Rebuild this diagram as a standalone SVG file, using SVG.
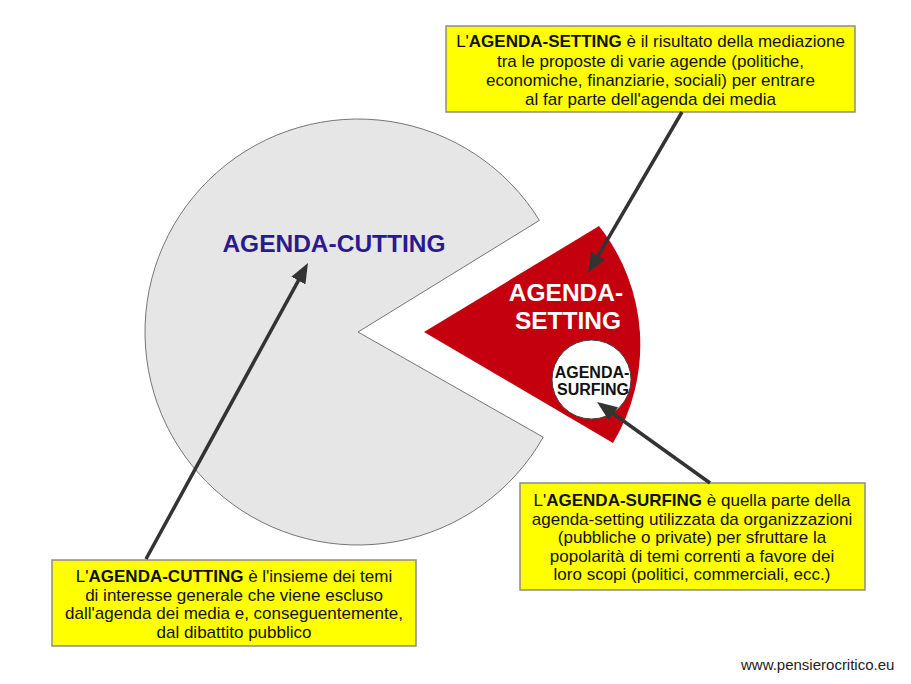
<svg xmlns="http://www.w3.org/2000/svg" width="911" height="684" viewBox="0 0 911 684">
<defs>
<style>
.box{fill:#ffff00;stroke:#8c8c8c;stroke-width:1.5}
.t{font-family:"Liberation Sans",Arial,sans-serif;font-size:17px;fill:#111;text-anchor:middle}
.b{font-weight:bold}
.arr{stroke:#333;stroke-width:3.5;fill:none;marker-end:url(#ah)}
.lbl{font-family:"Liberation Sans",Arial,sans-serif;font-weight:bold;text-anchor:middle}
</style>
<marker id="ah" viewBox="0 0 20 16" refX="14" refY="8" markerWidth="20" markerHeight="16" markerUnits="userSpaceOnUse" orient="auto">
<path d="M0,0 L20,8 L0,16 z" fill="#333"/>
</marker>
</defs>
<rect width="911" height="684" fill="#ffffff"/>

<g id="agenda-cutting">
<path d="M358 332 L539.4 220.4 A213 213 0 1 0 543.2 437.2 Z" fill="#e6e6e6" stroke="#555" stroke-width="0.8"/>
<text class="lbl" x="334" y="252" font-size="24.5" fill="#2b1a8e">AGENDA-CUTTING</text>
</g>

<g id="agenda-setting">
<path d="M424 332 L599 226 A191 191 0 0 1 613 443 Z" fill="#c4000f"/>
<text class="lbl" x="566" y="301" font-size="24.5" fill="#ffffff">AGENDA-</text>
<text class="lbl" x="568" y="329" font-size="24.5" fill="#ffffff">SETTING</text>
</g>

<g id="agenda-surfing">
<circle cx="591.5" cy="379.5" r="39.5" fill="#ffffff" stroke="#444" stroke-width="1"/>
<text class="lbl" x="592" y="378" font-size="16" fill="#111">AGENDA-</text>
<text class="lbl" x="593" y="395" font-size="16" fill="#111">SURFING</text>
</g>

<g id="note-setting">
<rect class="box" x="446" y="26" width="409" height="86"/>
<text class="t" x="650.5" y="46.5"><tspan>L'</tspan><tspan class="b">AGENDA-SETTING</tspan><tspan> è il risultato della mediazione</tspan></text>
<text class="t" x="650.5" y="66.5">tra le proposte di varie agende (politiche,</text>
<text class="t" x="650.5" y="86">economiche, finanziarie, sociali) per entrare</text>
<text class="t" x="650.5" y="105">al far parte dell'agenda dei media</text>
</g>

<g id="note-surfing">
<rect class="box" x="520" y="483" width="345" height="107"/>
<text class="t" x="692" y="506"><tspan>L'</tspan><tspan class="b">AGENDA-SURFING</tspan><tspan> è quella parte della</tspan></text>
<text class="t" x="692" y="524.5">agenda-setting utilizzata da organizzazioni</text>
<text class="t" x="692" y="543">(pubbliche o private) per sfruttare la</text>
<text class="t" x="692" y="561.5">popolarità di temi correnti a favore dei</text>
<text class="t" x="692" y="580">loro scopi (politici, commerciali, ecc.)</text>
</g>

<g id="note-cutting">
<rect class="box" x="52" y="560" width="364" height="86"/>
<text class="t" x="234" y="582"><tspan>L'</tspan><tspan class="b">AGENDA-CUTTING</tspan><tspan> è l'insieme dei temi</tspan></text>
<text class="t" x="234" y="600.5">di interesse generale che viene escluso</text>
<text class="t" x="234" y="619">dall'agenda dei media e, conseguentemente,</text>
<text class="t" x="234" y="637.5">dal dibattito pubblico</text>
</g>

<g id="connectors">
<line class="arr" x1="682" y1="112" x2="591" y2="267.8"/>
<line class="arr" x1="710" y1="483" x2="601.9" y2="405.5"/>
<line class="arr" x1="146" y1="559" x2="305.1" y2="268.3"/>
</g>

<text x="741" y="670" font-family="'Liberation Sans',Arial,sans-serif" font-size="15" fill="#222">www.pensierocritico.eu</text>
</svg>
